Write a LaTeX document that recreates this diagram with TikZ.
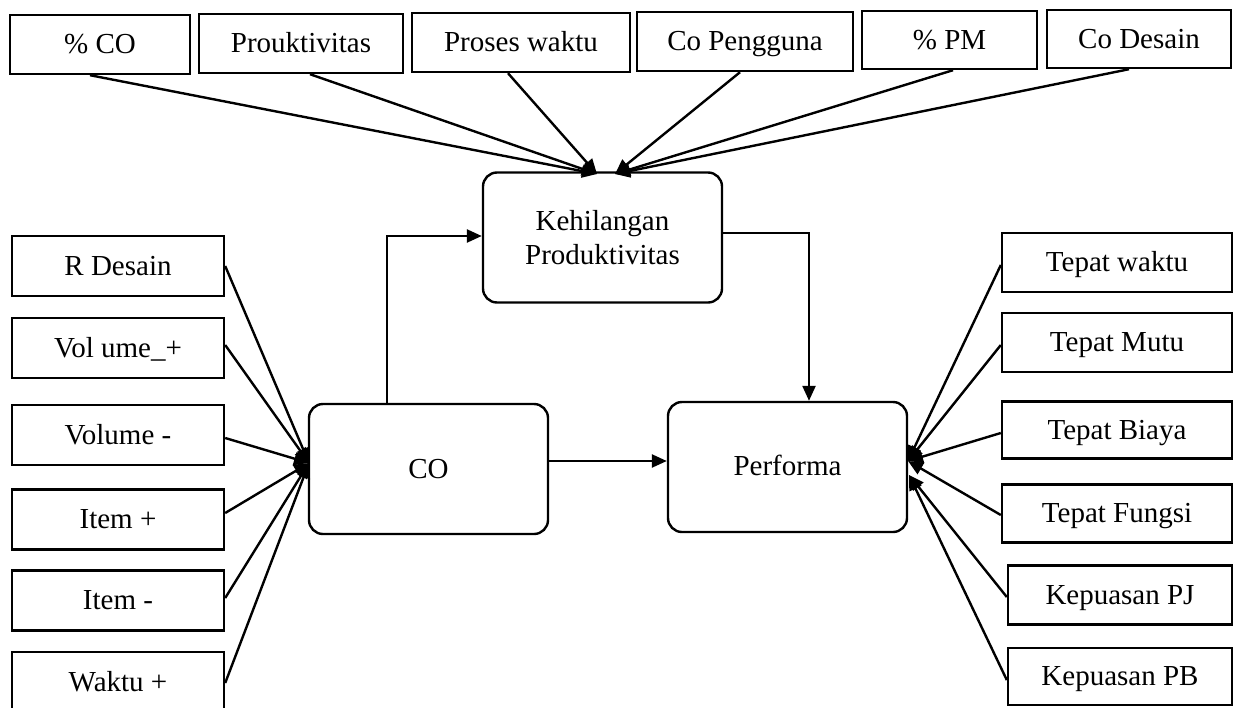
\documentclass[tikz,border=0pt]{standalone}
\usepackage{fontspec}
\setmainfont{Liberation Serif}
\usetikzlibrary{arrows.meta}
\begin{document}
\begin{tikzpicture}[x=1pt,y=-1pt,
  every node/.style={font=\fontsize{29}{34}\selectfont, inner sep=0pt},
  box/.style={draw, line width=2.4pt, minimum height=59pt, text height=20pt, text depth=2pt},
  rbox/.style={draw, line width=2.4pt, rounded corners=14pt, minimum width=239pt,
               minimum height=130pt, align=center},
  arr/.style={line width=2.4pt, -{Triangle[length=15pt,width=13pt]}}]
\useasboundingbox (0,0) rectangle (1236,707);
\fill[white] (0,0) rectangle (1236,707);
\clip (0,0) rectangle (1236,707);

% central process boxes
\node[rbox] (keh)  at (602.5,237.5) {Kehilangan\\Produktivitas};
\node[rbox, text height=20pt, text depth=1pt] (co)   at (428.5,469) {CO};
\node[rbox, text height=20pt, text depth=3pt] (perf) at (787.5,467) {Performa};

% top row of factors
\node[box, minimum width=180pt] (pco) at (100,44.5)  {\% CO};
\node[box, minimum width=204pt] (prk) at (301,43.5)  {Prouktivitas};
\node[box, minimum width=218pt] (pwk) at (521,42.5)  {Proses waktu};
\node[box, minimum width=216pt] (cpg) at (745,41.5)  {Co Pengguna};
\node[box, minimum width=175pt, minimum height=58pt] (ppm) at (949.5,40) {\% PM};
\node[box, minimum width=184pt, minimum height=58pt] (cds) at (1139,39)  {Co Desain};

% left column of change-order causes
\node[box, minimum width=212pt, minimum height=60pt] (rds) at (118,266)   {R Desain};
\node[box, minimum width=212pt, minimum height=60pt] (vlp) at (118,348)   {Vol ume\_+};
\node[box, minimum width=212pt, minimum height=60pt] (vlm) at (118,435)   {Volume -};
\node[box, minimum width=212pt, minimum height=60pt] (itp) at (118,519.5) {Item +};
\node[box, minimum width=212pt, minimum height=60pt] (itm) at (118,600.5) {Item -};
\node[box, minimum width=212pt, minimum height=60pt] (wkp) at (118,682)   {Waktu +};

% right column of performance criteria
\node[box, minimum width=230pt, minimum height=59pt] (tw)  at (1117,262.5) {Tepat waktu};
\node[box, minimum width=230pt, minimum height=59pt] (tm)  at (1117,342.5) {Tepat Mutu};
\node[box, minimum width=230pt, minimum height=57pt] (tb)  at (1117,430)   {Tepat Biaya};
\node[box, minimum width=230pt, minimum height=58pt] (tf)  at (1117,513.5) {Tepat Fungsi};
\node[box, minimum width=224pt, minimum height=59pt] (kpj) at (1120,595)   {Kepuasan PJ};
\node[box, minimum width=224pt, minimum height=57pt] (kpb) at (1120,676.5) {Kepuasan PB};

% arrow targets
\coordinate (kin1) at (597,174);
\coordinate (kin2) at (615,174);
\coordinate (cin)  at (309,463);
\coordinate (pin1) at (908,461);
\coordinate (pin2) at (909,475);

% top factors into Kehilangan Produktivitas
\draw[arr] ([xshift=-10pt]pco.south) -- (kin1);
\draw[arr] ([xshift=9pt]prk.south)   -- (kin1);
\draw[arr] ([xshift=-13pt]pwk.south) -- (kin1);
\draw[arr] ([xshift=-5pt]cpg.south)  -- (kin2);
\draw[arr] ([xshift=3.5pt]ppm.south) -- (kin2);
\draw[arr] ([xshift=-10pt]cds.south) -- (kin2);

% left causes into CO
\draw[arr] (rds.east) -- (cin);
\draw[arr] ([yshift=3pt]vlp.east) -- (cin);
\draw[arr] ([yshift=-3pt]vlm.east) -- (cin);
\draw[arr] ([yshift=6.5pt]itp.east) -- (cin);
\draw[arr] ([yshift=2.5pt]itm.east) -- (cin);
\draw[arr] ([yshift=-1pt]wkp.east) -- (cin);

% right criteria into Performa
\draw[arr] ([yshift=-2.5pt]tw.west) -- (pin1);
\draw[arr] ([yshift=-2.5pt]tm.west) -- (pin1);
\draw[arr] ([yshift=-3pt]tb.west)   -- (pin1);
\draw[arr] ([yshift=-1.5pt]tf.west) -- (pin1);
\draw[arr] ([yshift=-2pt]kpj.west)  -- (pin2);
\draw[arr] ([yshift=-3.5pt]kpb.west) -- (pin2);

% main flow
\draw[arr] ([xshift=-41.5pt]co.north) |- ([yshift=1.5pt]keh.west);
\draw[arr] ([yshift=4.5pt]keh.east) -| ([xshift=21.5pt]perf.north);
\draw[arr] ([yshift=8pt]co.east) -- ([yshift=8pt]co.east -| perf.west);
\end{tikzpicture}
\end{document}
